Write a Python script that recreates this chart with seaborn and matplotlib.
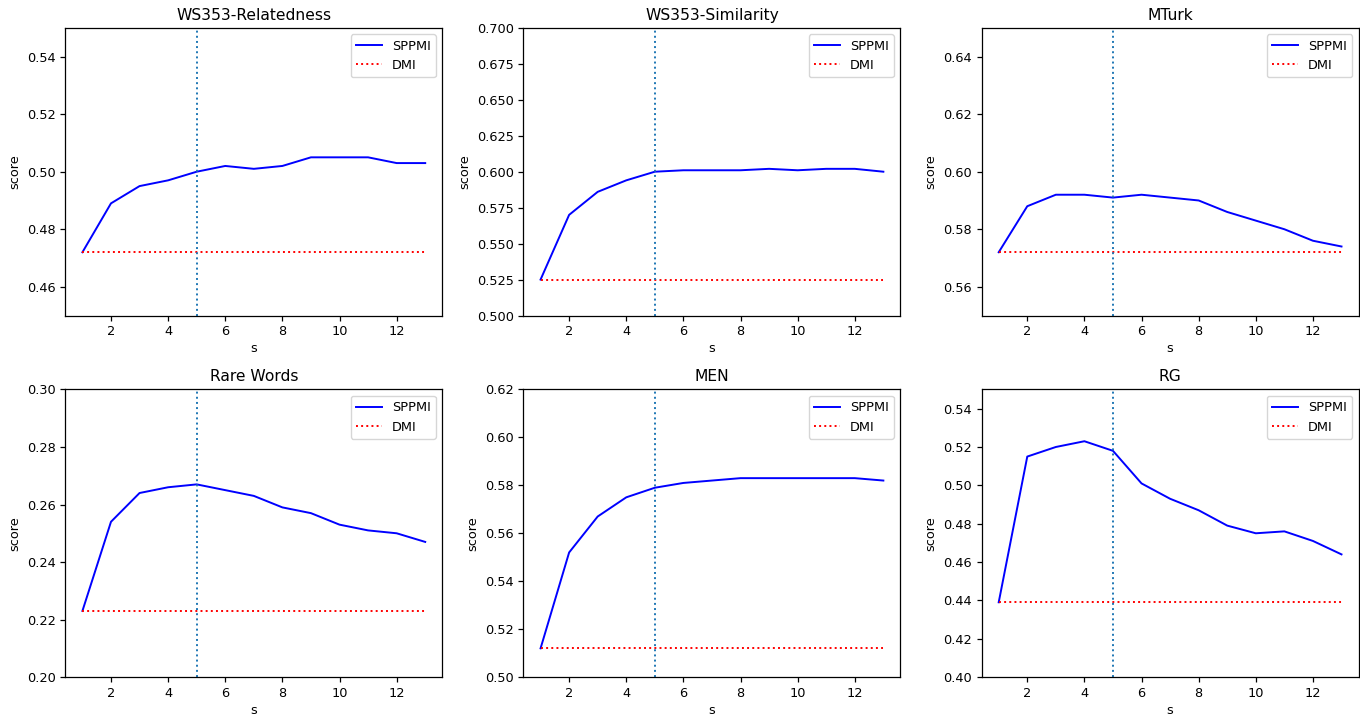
import numpy as np
import pandas as pd
import matplotlib
matplotlib.use("Agg")
import matplotlib.pyplot as plt
import seaborn as sns

# Shift values s
s_values = [1, 2, 3, 4, 5, 6, 7, 8, 9, 10, 11, 12, 13]

# Benchmarks, panel order row by row
datasets = ["WS353-Relatedness", "WS353-Similarity", "MTurk", "Rare Words", "MEN", "RG"]

# SPPMI scores per benchmark
sppmi_ws353_rel = [0.472, 0.489, 0.495, 0.497, 0.500, 0.502, 0.501, 0.502, 0.505, 0.505, 0.505, 0.503, 0.503]
sppmi_ws353_sim = [0.525, 0.570, 0.586, 0.594, 0.600, 0.601, 0.601, 0.601, 0.602, 0.601, 0.602, 0.602, 0.600]
sppmi_mturk = [0.572, 0.588, 0.592, 0.592, 0.591, 0.592, 0.591, 0.590, 0.586, 0.583, 0.580, 0.576, 0.574]
sppmi_rare = [0.223, 0.254, 0.264, 0.266, 0.267, 0.265, 0.263, 0.259, 0.257, 0.253, 0.251, 0.250, 0.247]
sppmi_men = [0.512, 0.552, 0.567, 0.575, 0.579, 0.581, 0.582, 0.583, 0.583, 0.583, 0.583, 0.583, 0.582]
sppmi_rg = [0.439, 0.515, 0.520, 0.523, 0.518, 0.501, 0.493, 0.487, 0.479, 0.475, 0.476, 0.471, 0.464]

# DMI baseline score per benchmark
dmi_scores = [0.472, 0.525, 0.572, 0.223, 0.512, 0.439]

# y-axis ranges per benchmark
y_limits = [(0.45, 0.55), (0.50, 0.70), (0.55, 0.65), (0.20, 0.30), (0.50, 0.62), (0.40, 0.55)]

# chosen shift marked on every panel
chosen_s = 5

sppmi_all = [sppmi_ws353_rel, sppmi_ws353_sim, sppmi_mturk, sppmi_rare, sppmi_men, sppmi_rg]

plt.rcParams["font.family"] = ["DejaVu Sans"]
plt.rcParams["axes.linewidth"] = 0.9
plt.rcParams["xtick.major.width"] = 0.9
plt.rcParams["ytick.major.width"] = 0.9

fs_small = 9.3
fs_title = 11.2

fig, axes = plt.subplots(2, 3, figsize=(13.6, 7.15), dpi=100)
fig.subplots_adjust(left=0.048, right=0.999, top=0.961, bottom=0.053,
                    wspace=0.215, hspace=0.257)

for ax, name, sppmi, dmi, ylim in zip(axes.flat, datasets, sppmi_all, dmi_scores, y_limits):
    df = pd.DataFrame({"s": s_values, "SPPMI": sppmi, "DMI": [dmi] * len(s_values)})
    sns.lineplot(data=df, x="s", y="SPPMI", ax=ax, color="blue", linewidth=1.4,
                 label="SPPMI")
    sns.lineplot(data=df, x="s", y="DMI", ax=ax, color="red", linewidth=1.4,
                 linestyle=":", label="DMI")
    ax.axvline(chosen_s, color="#1f77b4", linestyle=":", linewidth=1.4)
    ax.set_ylim(*ylim)
    ax.set_xlim(0.4, 13.6)
    ax.set_xticks([2, 4, 6, 8, 10, 12])
    ax.set_title(name, fontsize=fs_title)
    ax.set_xlabel("s", fontsize=fs_small, labelpad=3)
    ax.set_ylabel("score", fontsize=fs_small)
    ax.tick_params(labelsize=fs_small)
    ax.legend(loc="upper right", fontsize=fs_small)

fig.savefig("out.png", dpi=100)
